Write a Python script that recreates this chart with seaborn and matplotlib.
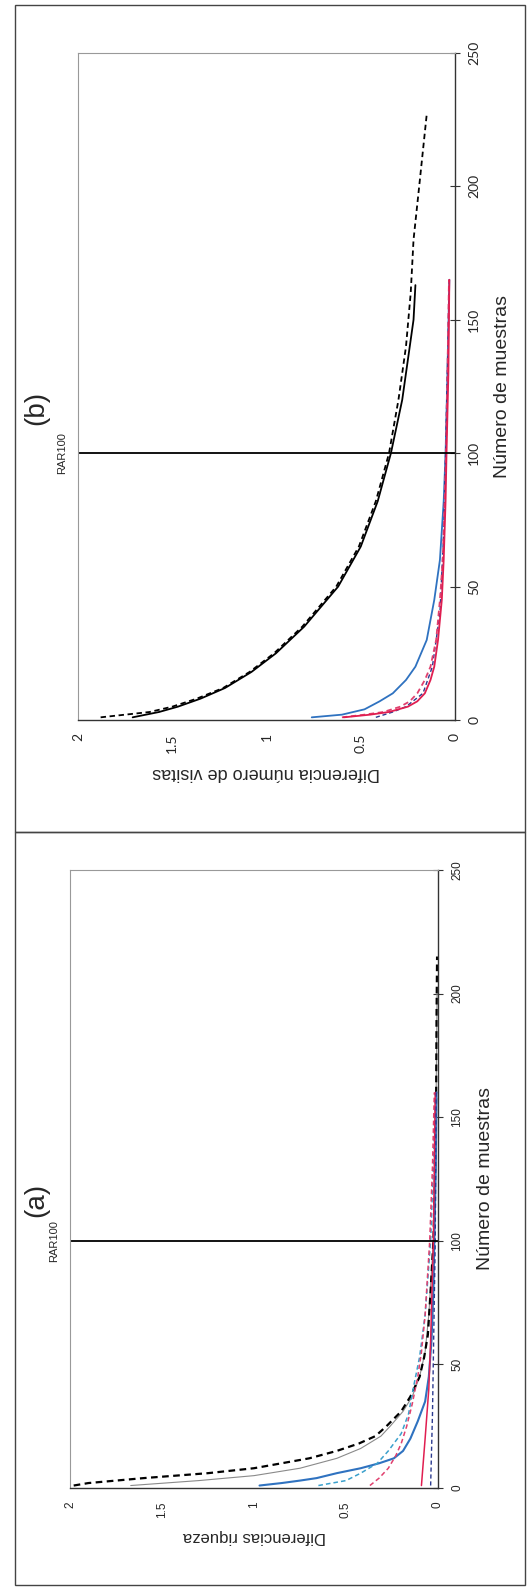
import matplotlib
matplotlib.use('Agg')
import matplotlib.pyplot as plt
import seaborn as sns
from matplotlib.patches import Rectangle

# ---- panel (b): Diferencia número de visitas ----
b_negro_x = [1, 3, 5, 8, 12, 18, 25, 35, 50, 65, 82, 100, 120, 140, 150, 163]
b_negro_y = [1.71, 1.57, 1.47, 1.35, 1.22, 1.08, 0.95, 0.80, 0.62, 0.50, 0.41, 0.34, 0.28, 0.24, 0.22, 0.21]
b_negro_d_x = [1, 3, 5, 8, 12, 18, 25, 35, 50, 65, 82, 100, 120, 140, 160, 180, 200, 227]
b_negro_d_y = [1.88, 1.62, 1.50, 1.37, 1.23, 1.09, 0.96, 0.81, 0.63, 0.51, 0.42, 0.35, 0.30, 0.26, 0.235, 0.22, 0.19, 0.15]
b_azul_x = [1, 2, 4, 7, 10, 15, 20, 30, 45, 60, 82, 100, 130, 165]
b_azul_y = [0.76, 0.60, 0.48, 0.40, 0.33, 0.26, 0.21, 0.15, 0.11, 0.08, 0.06, 0.05, 0.04, 0.03]
b_marino_x = [1, 3, 5, 10, 20, 40, 70, 100, 165]
b_marino_y = [0.42, 0.33, 0.26, 0.17, 0.12, 0.08, 0.06, 0.05, 0.03]
b_rojo_x = [1, 2, 3, 5, 7, 10, 15, 20, 30, 45, 60, 82, 100, 130, 165]
b_rojo_y = [0.59, 0.45, 0.35, 0.25, 0.20, 0.16, 0.13, 0.11, 0.09, 0.07, 0.06, 0.05, 0.045, 0.035, 0.03]
b_rojo_d_x = [1, 2, 3, 5, 7, 10, 15, 20, 30, 45, 60, 82, 100, 130, 165]
b_rojo_d_y = [0.60, 0.48, 0.38, 0.29, 0.24, 0.20, 0.16, 0.13, 0.10, 0.08, 0.065, 0.055, 0.048, 0.04, 0.032]

# ---- panel (a): Diferencias riqueza ----
a_negro_d_x = [1, 2, 4, 6, 8, 10, 12, 15, 18, 21, 25, 31, 37, 45, 53, 62, 80, 100, 130, 160, 190, 215]
a_negro_d_y = [1.98, 1.90, 1.60, 1.25, 1.00, 0.85, 0.70, 0.55, 0.43, 0.34, 0.28, 0.20, 0.15, 0.10, 0.075, 0.055, 0.04, 0.025, 0.015, 0.01, 0.008, 0.005]
a_gris_x = [1, 3, 5, 8, 12, 16, 21, 25, 31, 37, 45, 55, 70, 100, 130, 160, 200]
a_gris_y = [1.67, 1.30, 1.00, 0.75, 0.55, 0.42, 0.31, 0.26, 0.19, 0.14, 0.10, 0.07, 0.05, 0.025, 0.015, 0.01, 0.005]
a_azul_x = [1, 2, 3, 4, 6, 8, 10, 12, 15, 20, 27, 35, 45, 60, 80, 100, 130, 160]
a_azul_y = [0.97, 0.85, 0.75, 0.66, 0.55, 0.42, 0.32, 0.24, 0.19, 0.15, 0.11, 0.07, 0.05, 0.035, 0.025, 0.02, 0.012, 0.008]
a_celeste_d_x = [1, 3, 6, 10, 15, 22, 30, 42, 53, 70, 100, 130, 160]
a_celeste_d_y = [0.65, 0.50, 0.42, 0.33, 0.27, 0.20, 0.16, 0.13, 0.10, 0.07, 0.04, 0.025, 0.015]
a_rojo_d_x = [1, 4, 8, 13, 18, 25, 34, 45, 55, 70, 100, 130, 160]
a_rojo_d_y = [0.37, 0.32, 0.27, 0.23, 0.20, 0.17, 0.14, 0.11, 0.09, 0.07, 0.045, 0.03, 0.02]
a_rojo_x = [1, 20, 40, 60, 100, 160]
a_rojo_y = [0.09, 0.07, 0.05, 0.04, 0.025, 0.015]
a_marino_d_x = [1, 30, 100, 160]
a_marino_d_y = [0.04, 0.03, 0.015, 0.01]

muestras_ticks = [0, 50, 100, 150, 200, 250]
dif_ticks = [0, 0.5, 1, 1.5, 2]
dif_labels = ['0', '0.5', '1', '1.5', '2']

sns.set_style('white')
plt.rcParams['font.family'] = ['Liberation Sans', 'DejaVu Sans']

W, H = 530, 1587
fig = plt.figure(figsize=(W / 100, H / 100), dpi=100)

# outer frames
fig.patches.append(Rectangle((15 / W, 1 - 832 / H), 510 / W, 827 / H, transform=fig.transFigure,
                             fill=False, edgecolor='#444444', lw=1.0))
fig.patches.append(Rectangle((15 / W, 1 - 1585 / H), 510 / W, 753 / H, transform=fig.transFigure,
                             fill=False, edgecolor='#444444', lw=1.0))


def panel(ax, series, xlabel, tickfont, ticksize, labsize, titulo, tit_y):
    for xs, ys, color, ls, lw in series:
        sns.lineplot(x=ys, y=xs, orient='y', estimator=None, sort=False, ax=ax,
                     color=color, linestyle=ls, linewidth=lw)
    ax.axhline(100, color='black', lw=1.3)
    ax.set_xlim(2, 0)
    ax.set_ylim(0, 250)
    ax.set_xticks(dif_ticks)
    ax.set_xticklabels(dif_labels, rotation=90, family=tickfont, size=ticksize)
    ax.set_yticks(muestras_ticks)
    ax.set_yticklabels([str(t) for t in muestras_ticks], rotation=90, family=tickfont,
                       size=ticksize, va='center')
    ax.yaxis.tick_right()
    ax.yaxis.set_label_position('right')
    ax.tick_params(axis='both', direction='inout', length=7, width=0.8, color='#333333', pad=6)
    for s in ['top', 'left']:
        ax.spines[s].set_color('#999999')
        ax.spines[s].set_linewidth(0.8)
    for s in ['bottom', 'right']:
        ax.spines[s].set_color('#333333')
        ax.spines[s].set_linewidth(1.0)
    ax.set_xlabel(xlabel, rotation=180, size=labsize, labelpad=8)
    ax.set_ylabel('Número de muestras', rotation=90, size=14, labelpad=10)
    ax.text(1.03 * 2, 100, 'RAR100', rotation=90, ha='right', va='center', size=8)
    fig.text(36 / W, tit_y, titulo, rotation=90, ha='center', va='center', size=20)


ax_b = fig.add_axes([78 / W, 1 - 720 / H, 377 / W, 667 / H])
panel(ax_b, [
    (b_negro_d_x, b_negro_d_y, 'black', (0, (3, 2)), 1.3),
    (b_negro_x, b_negro_y, 'black', '-', 1.3),
    (b_azul_x, b_azul_y, '#2f72c0', '-', 1.3),
    (b_marino_x, b_marino_y, '#2b3a8f', (0, (3, 2)), 1.0),
    (b_rojo_d_x, b_rojo_d_y, '#e0406e', (0, (3, 2)), 1.3),
    (b_rojo_x, b_rojo_y, '#e01e50', '-', 1.3),
], 'Diferencia número de visitas', ['Lato', 'DejaVu Sans'], 10, 13, '(b)', 1 - 408 / H)

ax_a = fig.add_axes([70 / W, 1 - 1488 / H, 368 / W, 618 / H])
panel(ax_a, [
    (a_gris_x, a_gris_y, '#8a8a8a', '-', 0.8),
    (a_negro_d_x, a_negro_d_y, 'black', (0, (3, 2)), 1.6),
    (a_azul_x, a_azul_y, '#2f72c0', '-', 1.5),
    (a_celeste_d_x, a_celeste_d_y, '#3aa0cc', (0, (3, 2)), 1.1),
    (a_rojo_d_x, a_rojo_d_y, '#e0406e', (0, (3, 2)), 1.1),
    (a_rojo_x, a_rojo_y, '#e01e50', '-', 1.1),
    (a_marino_d_x, a_marino_d_y, '#2b3a8f', (0, (3, 2)), 1.0),
], 'Diferencias riqueza', ['Liberation Sans Narrow', 'Liberation Sans'], 8.5, 12, '(a)', 1 - 1200 / H)

fig.savefig('out.png', dpi=100)
